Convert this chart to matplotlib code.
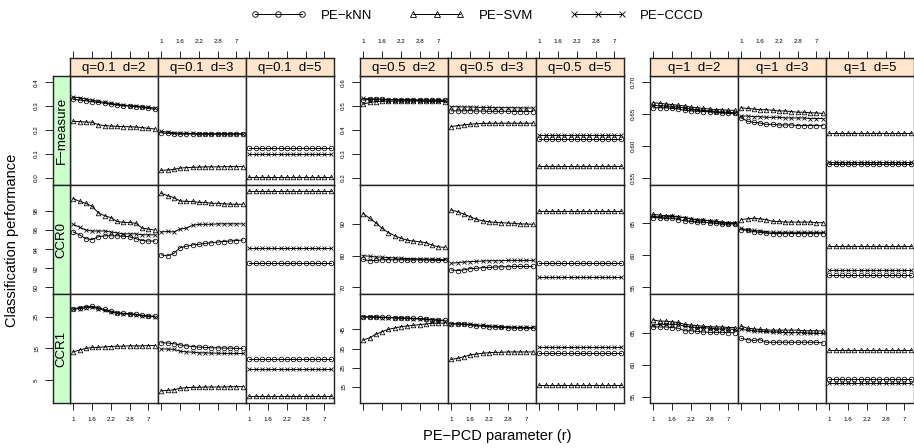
import matplotlib
matplotlib.use('Agg')
import matplotlib.pyplot as plt
from matplotlib.lines import Line2D
import numpy as np

plt.rcParams['font.family'] = ['Liberation Sans', 'DejaVu Sans']

R_VALUES = [1, 1.2, 1.4, 1.6, 1.8, 2, 2.2, 2.4, 2.6, 2.8, 3, 5, 7, 9]
R_TICKS = ['1', '1.6', '2.2', '2.8', '7']
Q_LABELS = ['0.1', '0.5', '1']
D_LABELS = ['2', '3', '5']
METRICS = ['F\u2212measure', 'CCR0', 'CCR1']
METHODS = ['PE\u2212kNN', 'PE\u2212SVM', 'PE\u2212CCCD']

# each variable: rows for d=2, d=3, d=5 (14 values of r each)
# ---- q = 0.1 ----
F_Q01_KNN = [[0.328, 0.325, 0.322, 0.318, 0.315, 0.312, 0.308, 0.305, 0.302, 0.300, 0.298, 0.295, 0.290, 0.287],
             [0.188, 0.185, 0.184, 0.183, 0.183, 0.183, 0.182, 0.182, 0.182, 0.182, 0.182, 0.182, 0.182, 0.182],
             [0.124, 0.124, 0.124, 0.124, 0.124, 0.124, 0.124, 0.124, 0.124, 0.124, 0.124, 0.124, 0.124, 0.124]]
F_Q01_SVM = [[0.236, 0.235, 0.233, 0.232, 0.222, 0.218, 0.216, 0.215, 0.214, 0.213, 0.212, 0.210, 0.206, 0.204],
             [0.030, 0.032, 0.034, 0.040, 0.042, 0.043, 0.044, 0.045, 0.045, 0.045, 0.046, 0.046, 0.046, 0.046],
             [0.004, 0.004, 0.004, 0.004, 0.004, 0.004, 0.004, 0.004, 0.004, 0.004, 0.004, 0.004, 0.004, 0.004]]
F_Q01_CCCD = [[0.338, 0.335, 0.330, 0.325, 0.320, 0.315, 0.311, 0.307, 0.304, 0.302, 0.300, 0.297, 0.294, 0.292],
              [0.194, 0.191, 0.188, 0.186, 0.185, 0.185, 0.184, 0.184, 0.184, 0.184, 0.184, 0.184, 0.184, 0.184],
              [0.101, 0.101, 0.101, 0.101, 0.101, 0.101, 0.101, 0.101, 0.101, 0.101, 0.101, 0.101, 0.101, 0.101]]
CCR0_Q01_KNN = [[95.8, 95.5, 95.1, 95.0, 95.3, 95.4, 95.4, 95.4, 95.35, 95.3, 95.1, 94.9, 94.85, 94.85],
                [93.4, 93.3, 93.55, 94.15, 94.3, 94.45, 94.5, 94.6, 94.67, 94.74, 94.8, 94.85, 94.9, 94.95],
                [92.5, 92.5, 92.5, 92.5, 92.5, 92.5, 92.5, 92.5, 92.5, 92.5, 92.5, 92.5, 92.5, 92.5]]
CCR0_Q01_SVM = [[99.3, 99.0, 98.8, 98.5, 97.8, 97.5, 97.3, 96.9, 96.8, 96.8, 96.7, 96.2, 96.1, 96.0],
                [99.85, 99.6, 99.4, 99.05, 99.0, 99.0, 98.9, 98.9, 98.8, 98.8, 98.75, 98.72, 98.7, 98.7],
                [100.1, 100.1, 100.1, 100.1, 100.1, 100.1, 100.1, 100.1, 100.1, 100.1, 100.1, 100.1, 100.1, 100.1]]
CCR0_Q01_CCCD = [[96.6, 96.3, 96.0, 95.9, 95.9, 95.9, 95.8, 95.7, 95.6, 95.6, 95.6, 95.5, 95.5, 95.5],
                 [95.8, 95.85, 95.8, 96.1, 96.2, 96.5, 96.6, 96.6, 96.6, 96.65, 96.65, 96.65, 96.65, 96.65],
                 [94.1, 94.1, 94.1, 94.1, 94.1, 94.1, 94.1, 94.1, 94.1, 94.1, 94.1, 94.1, 94.1, 94.1]]
CCR1_Q01_KNN = [[27.5, 27.9, 28.2, 28.3, 27.9, 27.3, 26.8, 26.3, 26.1, 26.0, 25.8, 25.5, 25.3, 25.2],
                [16.8, 16.7, 16.5, 16.1, 15.8, 15.6, 15.4, 15.3, 15.2, 15.2, 15.1, 15.1, 15.0, 15.0],
                [11.5, 11.5, 11.5, 11.5, 11.5, 11.5, 11.5, 11.5, 11.5, 11.5, 11.5, 11.5, 11.5, 11.5]]
CCR1_Q01_SVM = [[13.9, 14.5, 15.0, 15.3, 15.3, 15.5, 15.6, 15.7, 15.7, 15.8, 15.8, 15.8, 15.9, 15.9],
                [1.6, 1.7, 1.9, 2.4, 2.6, 2.7, 2.7, 2.8, 2.8, 2.8, 2.8, 2.9, 2.9, 2.9],
                [0.0, 0.0, 0.0, 0.0, 0.0, 0.0, 0.0, 0.0, 0.0, 0.0, 0.0, 0.0, 0.0, 0.0]]
CCR1_Q01_CCCD = [[27.3, 27.6, 27.9, 28.0, 27.6, 27.0, 26.5, 26.1, 25.9, 25.8, 25.6, 25.3, 25.1, 25.0],
                 [14.8, 14.8, 14.7, 14.1, 13.9, 13.8, 13.6, 13.6, 13.5, 13.5, 13.4, 13.4, 13.4, 13.4],
                 [8.4, 8.4, 8.4, 8.4, 8.4, 8.4, 8.4, 8.4, 8.4, 8.4, 8.4, 8.4, 8.4, 8.4]]

# ---- q = 0.5 ----
F_Q05_KNN = [[0.525, 0.528, 0.529, 0.528, 0.527, 0.527, 0.526, 0.526, 0.526, 0.525, 0.525, 0.525, 0.525, 0.524],
             [0.480, 0.480, 0.480, 0.481, 0.479, 0.479, 0.478, 0.478, 0.478, 0.478, 0.477, 0.477, 0.477, 0.477],
             [0.362, 0.362, 0.362, 0.362, 0.362, 0.362, 0.362, 0.362, 0.362, 0.362, 0.362, 0.362, 0.362, 0.362]]
F_Q05_SVM = [[0.508, 0.515, 0.518, 0.520, 0.521, 0.521, 0.521, 0.521, 0.521, 0.521, 0.520, 0.520, 0.520, 0.519],
             [0.414, 0.418, 0.421, 0.424, 0.426, 0.427, 0.428, 0.428, 0.428, 0.428, 0.428, 0.428, 0.428, 0.428],
             [0.249, 0.249, 0.249, 0.249, 0.249, 0.249, 0.249, 0.249, 0.249, 0.249, 0.249, 0.249, 0.249, 0.249]]
F_Q05_CCCD = [[0.532, 0.530, 0.529, 0.528, 0.527, 0.527, 0.526, 0.526, 0.526, 0.525, 0.525, 0.525, 0.524, 0.524],
              [0.497, 0.497, 0.496, 0.496, 0.495, 0.494, 0.494, 0.493, 0.493, 0.493, 0.493, 0.492, 0.492, 0.492],
              [0.377, 0.377, 0.377, 0.377, 0.377, 0.377, 0.377, 0.377, 0.377, 0.377, 0.377, 0.377, 0.377, 0.377]]
CCR0_Q05_KNN = [[78.8, 78.4, 78.5, 78.7, 78.7, 78.7, 78.7, 78.7, 78.7, 78.7, 78.7, 78.6, 78.5, 78.5],
                [75.5, 75.3, 75.5, 75.9, 76.0, 76.2, 76.3, 76.4, 76.5, 76.5, 76.6, 76.6, 76.6, 76.6],
                [77.6, 77.6, 77.6, 77.6, 77.6, 77.6, 77.6, 77.6, 77.6, 77.6, 77.6, 77.6, 77.6, 77.6]]
CCR0_Q05_SVM = [[93.3, 91.8, 90.4, 88.6, 87.3, 86.3, 85.5, 84.9, 84.6, 84.4, 84.1, 83.3, 82.8, 82.6],
                [94.4, 93.9, 93.1, 92.3, 91.5, 91.0, 90.7, 90.5, 90.4, 90.3, 90.2, 90.0, 90.0, 89.9],
                [94.2, 94.2, 94.2, 94.2, 94.2, 94.2, 94.2, 94.2, 94.2, 94.2, 94.2, 94.2, 94.2, 94.2]]
CCR0_Q05_CCCD = [[80.0, 79.8, 79.6, 79.5, 79.4, 79.3, 79.2, 79.1, 79.0, 79.0, 78.9, 78.9, 78.8, 78.8],
                 [77.6, 77.8, 78.0, 78.1, 78.2, 78.3, 78.4, 78.4, 78.4, 78.5, 78.5, 78.5, 78.5, 78.5],
                 [73.35, 73.35, 73.35, 73.35, 73.35, 73.35, 73.35, 73.35, 73.35, 73.35, 73.35, 73.35, 73.35, 73.35]]
CCR1_Q05_KNN = [[51.6, 51.6, 51.5, 51.4, 51.3, 51.1, 51.0, 50.9, 50.8, 50.7, 50.4, 50.1, 49.9, 49.7],
                [47.8, 47.8, 47.6, 47.3, 46.9, 46.7, 46.4, 46.2, 46.0, 45.9, 45.7, 45.7, 45.6, 45.6],
                [32.5, 32.5, 32.5, 32.5, 32.5, 32.5, 32.5, 32.5, 32.5, 32.5, 32.5, 32.5, 32.5, 32.5]]
CCR1_Q05_SVM = [[39.4, 40.6, 42.4, 43.8, 45.0, 45.7, 46.4, 46.8, 47.1, 47.5, 47.8, 48.2, 48.2, 48.3],
                [29.3, 29.8, 30.7, 31.6, 32.1, 32.5, 32.8, 33.0, 33.0, 33.2, 33.2, 33.2, 33.2, 33.2],
                [15.9, 15.9, 15.9, 15.9, 15.9, 15.9, 15.9, 15.9, 15.9, 15.9, 15.9, 15.9, 15.9, 15.9]]
CCR1_Q05_CCCD = [[51.4, 51.4, 51.3, 51.2, 51.1, 51.0, 50.8, 50.7, 50.6, 50.4, 50.2, 50.0, 49.7, 49.5],
                 [47.9, 47.9, 47.8, 47.6, 47.3, 47.1, 46.8, 46.6, 46.4, 46.3, 46.1, 46.0, 46.0, 46.0],
                 [35.6, 35.6, 35.6, 35.6, 35.6, 35.6, 35.6, 35.6, 35.6, 35.6, 35.6, 35.6, 35.6, 35.6]]

# ---- q = 1 ----
F_Q1_KNN = [[0.660, 0.660, 0.660, 0.659, 0.658, 0.656, 0.655, 0.655, 0.654, 0.654, 0.653, 0.652, 0.651, 0.651],
            [0.644, 0.639, 0.637, 0.636, 0.634, 0.634, 0.633, 0.633, 0.633, 0.632, 0.632, 0.632, 0.632, 0.632],
            [0.572, 0.572, 0.572, 0.572, 0.572, 0.572, 0.572, 0.572, 0.572, 0.572, 0.572, 0.572, 0.572, 0.572]]
F_Q1_SVM = [[0.668, 0.667, 0.666, 0.665, 0.664, 0.663, 0.661, 0.660, 0.659, 0.658, 0.657, 0.657, 0.656, 0.656],
            [0.660, 0.659, 0.658, 0.657, 0.657, 0.656, 0.655, 0.655, 0.654, 0.653, 0.653, 0.652, 0.652, 0.651],
            [0.620, 0.620, 0.620, 0.620, 0.620, 0.620, 0.620, 0.620, 0.620, 0.620, 0.620, 0.620, 0.620, 0.620]]
F_Q1_CCCD = [[0.664, 0.663, 0.663, 0.662, 0.661, 0.660, 0.658, 0.657, 0.656, 0.655, 0.654, 0.653, 0.653, 0.652],
             [0.647, 0.647, 0.646, 0.646, 0.645, 0.645, 0.645, 0.644, 0.644, 0.644, 0.644, 0.643, 0.643, 0.643],
             [0.574, 0.574, 0.574, 0.574, 0.574, 0.574, 0.574, 0.574, 0.574, 0.574, 0.574, 0.574, 0.574, 0.574]]
CCR0_Q1_KNN = [[65.9, 65.9, 65.8, 65.8, 65.6, 65.4, 65.3, 65.2, 65.2, 65.1, 65.0, 64.9, 64.9, 64.9],
               [64.0, 63.9, 63.7, 63.6, 63.5, 63.4, 63.4, 63.4, 63.4, 63.4, 63.4, 63.4, 63.4, 63.4],
               [56.9, 56.9, 56.9, 56.9, 56.9, 56.9, 56.9, 56.9, 56.9, 56.9, 56.9, 56.9, 56.9, 56.9]]
CCR0_Q1_SVM = [[66.4, 66.3, 66.2, 66.2, 66.0, 65.9, 65.7, 65.6, 65.5, 65.4, 65.3, 65.2, 65.1, 65.1],
               [65.6, 65.7, 65.8, 65.7, 65.6, 65.3, 65.3, 65.2, 65.2, 65.2, 65.2, 65.2, 65.1, 65.1],
               [61.45, 61.45, 61.45, 61.45, 61.45, 61.45, 61.45, 61.45, 61.45, 61.45, 61.45, 61.45, 61.45, 61.45]]
CCR0_Q1_CCCD = [[66.1, 66.0, 66.0, 66.1, 66.0, 65.9, 65.7, 65.5, 65.5, 65.4, 65.3, 65.1, 65.0, 65.0],
                [64.2, 64.0, 63.9, 63.8, 63.7, 63.6, 63.6, 63.6, 63.6, 63.6, 63.6, 63.6, 63.6, 63.6],
                [57.7, 57.7, 57.7, 57.7, 57.7, 57.7, 57.7, 57.7, 57.7, 57.7, 57.7, 57.7, 57.7, 57.7]]
CCR1_Q1_KNN = [[65.9, 65.9, 65.9, 65.8, 65.7, 65.3, 65.3, 65.2, 65.1, 65.05, 65.05, 65.05, 65.0, 65.0],
               [64.1, 63.9, 63.8, 63.9, 63.5, 63.5, 63.5, 63.5, 63.5, 63.5, 63.5, 63.5, 63.5, 63.4],
               [57.7, 57.7, 57.7, 57.7, 57.7, 57.7, 57.7, 57.7, 57.7, 57.7, 57.7, 57.7, 57.7, 57.7]]
CCR1_Q1_SVM = [[67.0, 66.8, 66.8, 66.7, 66.6, 66.3, 66.2, 66.1, 66.0, 65.9, 65.9, 65.9, 65.8, 65.8],
               [66.0, 65.7, 65.6, 65.5, 65.4, 65.4, 65.4, 65.4, 65.4, 65.4, 65.3, 65.3, 65.3, 65.25],
               [62.3, 62.3, 62.3, 62.3, 62.3, 62.3, 62.3, 62.3, 62.3, 62.3, 62.3, 62.3, 62.3, 62.3]]
CCR1_Q1_CCCD = [[66.2, 66.3, 66.3, 66.3, 66.3, 66.0, 65.9, 65.8, 65.8, 65.7, 65.6, 65.6, 65.6, 65.5],
                [65.5, 65.4, 65.3, 65.2, 65.2, 65.1, 65.1, 65.0, 65.0, 65.0, 65.0, 64.9, 64.9, 64.9],
                [57.1, 57.1, 57.1, 57.1, 57.1, 57.1, 57.1, 57.1, 57.1, 57.1, 57.1, 57.1, 57.1, 57.1]]

# [group q][metric row] -> (knn, svm, cccd)
SERIES = [
    [(F_Q01_KNN, F_Q01_SVM, F_Q01_CCCD), (CCR0_Q01_KNN, CCR0_Q01_SVM, CCR0_Q01_CCCD), (CCR1_Q01_KNN, CCR1_Q01_SVM, CCR1_Q01_CCCD)],
    [(F_Q05_KNN, F_Q05_SVM, F_Q05_CCCD), (CCR0_Q05_KNN, CCR0_Q05_SVM, CCR0_Q05_CCCD), (CCR1_Q05_KNN, CCR1_Q05_SVM, CCR1_Q05_CCCD)],
    [(F_Q1_KNN, F_Q1_SVM, F_Q1_CCCD), (CCR0_Q1_KNN, CCR0_Q1_SVM, CCR0_Q1_CCCD), (CCR1_Q1_KNN, CCR1_Q1_SVM, CCR1_Q1_CCCD)],
]

YLIMS = [[(-0.031, 0.426), (89.3, 100.72), (-2.26, 32.2)],
         [(0.169, 0.626), (67.9, 102.3), (6.5, 63.5)],
         [(0.5385, 0.71), (53.95, 71.0), (54.0, 71.05)]]
YTICKS = [[[0.0, 0.1, 0.2, 0.3, 0.4], [90, 92, 94, 96, 98], [5, 15, 25]],
          [[0.2, 0.3, 0.4, 0.5, 0.6], [70, 80, 90], [15, 25, 35, 45]],
          [[0.55, 0.60, 0.65, 0.70], [55, 60, 65], [55, 60, 65]]]
YTICKLABELS = [[['0.0', '0.1', '0.2', '0.3', '0.4'], ['90', '92', '94', '96', '98'], ['5', '15', '25']],
               [['0.2', '0.3', '0.4', '0.5', '0.6'], ['70', '80', '90'], ['15', '25', '35', '45']],
               [['0.55', '0.60', '0.65', '0.70'], ['55', '60', '65'], ['55', '60', '65']]]

# layout in pixels
W, H = 914, 448
GROUP_X = [70, 360, 650]
PW = 88
ROW_TOP = [76, 185, 294]
PH = 109
STRIP_TOP = 58
STRIP_H = 18
GREEN_X = 53
TOP_LABELLED = [[1], [0, 2], [1]]
BOTTOM_LABELLED = [[0, 2], [1], [0, 2]]
MARKERS = ['o', '^', 'x']
PEACH = '#FFE5CC'
GREEN = '#CCFFCC'
TICK_FS = 4.5
STRIP_FS = 9.5


def rect(x, y, w, h):
    return [x / W, 1 - (y + h) / H, w / W, h / H]


fig = plt.figure(figsize=(W / 100, H / 100), dpi=100)

x = np.arange(len(R_VALUES))
xlim = (-0.52, len(R_VALUES) - 1 + 0.52)
tick_idx = [0, 3, 6, 9, 12]

for g in range(3):
    for col in range(3):
        px = GROUP_X[g] + col * PW
        for row in range(3):
            ax = fig.add_axes(rect(px, ROW_TOP[row], PW, PH))
            for s in range(3):
                ax.plot(x, SERIES[g][row][s][col], color='black', lw=0.7,
                        marker=MARKERS[s], ms=3.3, mfc='none', mec='black', mew=0.55)
            ax.set_xlim(xlim)
            ax.set_ylim(YLIMS[g][row])
            for sp in ax.spines.values():
                sp.set_linewidth(1.0)
                sp.set_color('#222222')
            if row == 2:
                ax.set_xticks(tick_idx)
                if col in BOTTOM_LABELLED[g]:
                    ax.set_xticklabels(R_TICKS)
                else:
                    ax.set_xticklabels([])
                ax.tick_params(axis='x', direction='out', length=5, width=0.6,
                               labelsize=TICK_FS, pad=5)
            else:
                ax.set_xticks([])
            if col == 0 and g > 0:
                ax.set_yticks(YTICKS[g][row])
                ax.set_yticklabels(YTICKLABELS[g][row], rotation=90, va='center')
                ax.tick_params(axis='y', direction='out', length=6, width=0.6,
                               labelsize=TICK_FS, pad=4)
            else:
                ax.set_yticks([])

        # top strip
        st = fig.add_axes(rect(px, STRIP_TOP, PW, STRIP_H))
        st.set_facecolor(PEACH)
        st.set_xlim(xlim)
        st.set_yticks([])
        st.xaxis.tick_top()
        st.set_xticks(tick_idx)
        if col in TOP_LABELLED[g]:
            st.set_xticklabels(R_TICKS)
        else:
            st.set_xticklabels([])
        st.tick_params(axis='x', direction='out', length=5, width=0.6,
                       labelsize=TICK_FS, pad=5)
        for sp in st.spines.values():
            sp.set_linewidth(1.0)
            sp.set_color('#222222')
        st.text(0.5, 0.45, 'q=' + Q_LABELS[g] + '  d=' + D_LABELS[col],
                transform=st.transAxes, ha='center', va='center', fontsize=STRIP_FS)

# green row strips with y axis for first group
for row in range(3):
    gs = fig.add_axes(rect(GREEN_X, ROW_TOP[row], GROUP_X[0] - GREEN_X, PH))
    gs.set_facecolor(GREEN)
    gs.set_xticks([])
    gs.set_ylim(YLIMS[0][row])
    gs.set_yticks(YTICKS[0][row])
    gs.set_yticklabels(YTICKLABELS[0][row], rotation=90, va='center')
    gs.tick_params(axis='y', direction='out', length=6, width=0.6,
                   labelsize=TICK_FS, pad=4)
    for sp in gs.spines.values():
        sp.set_linewidth(1.0)
        sp.set_color('#222222')
    gs.text(0.5, 0.5, METRICS[row], transform=gs.transAxes, rotation=90,
            ha='center', va='center', fontsize=STRIP_FS)

handles = [Line2D([0], [0], color='black', lw=0.7, marker=m, ms=4, mfc='none',
                  mec='black', mew=0.6) for m in MARKERS]
fig.legend(handles, METHODS, loc='center', bbox_to_anchor=(0.522, 1 - 16 / H),
           ncol=3, frameon=False, numpoints=3, handlelength=4.2,
           handletextpad=1.1, columnspacing=2.8, fontsize=9.5)

fig.text(497 / W, 1 - 436 / H, 'PE\u2212PCD parameter (r)', ha='center', va='center', fontsize=10.5)
fig.text(12 / W, 1 - 240 / H, 'Classification performance', ha='center', va='center',
         rotation=90, fontsize=10.5)

fig.savefig('out.png', dpi=100)
